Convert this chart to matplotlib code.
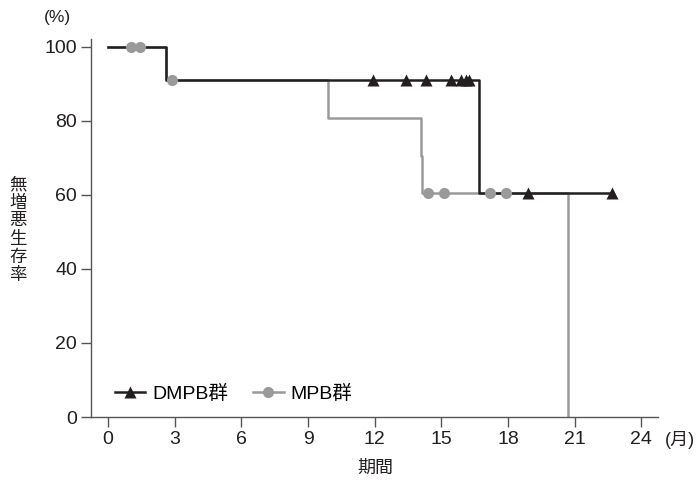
import matplotlib
matplotlib.use('Agg')
import matplotlib.pyplot as plt
from matplotlib.lines import Line2D

plt.rcParams['font.family'] = ['Liberation Sans', 'Noto Sans CJK JP']

# DMPB群 step curve and censor marks
dmpb_t = [0, 2.6, 16.7, 22.7]
dmpb_s = [100, 91, 60.6, 60.6]
dmpb_cens_t = [11.9, 13.4, 14.3, 15.45, 15.9, 16.1, 16.25, 18.9, 22.7]
dmpb_cens_s = [91, 91, 91, 91, 91, 91, 91, 60.6, 60.6]

# MPB群 step curve and censor marks
mpb_t = [0, 2.6, 9.9, 14.08, 14.13, 20.68, 20.68]
mpb_s = [100, 91, 80.8, 70.6, 60.6, 0, 0]
mpb_cens_t = [1.05, 1.42, 2.87, 14.4, 15.1, 17.2, 17.9]
mpb_cens_s = [100, 100, 91, 60.6, 60.6, 60.6, 60.6]

xticks = [0, 3, 6, 9, 12, 15, 18, 21, 24]
yticks = [0, 20, 40, 60, 80, 100]

black = '#231f20'
gray = '#9a9a9a'

fig = plt.figure(figsize=(7, 4.87), dpi=100)
ax = fig.add_axes([0.13, 0.1437, 0.81, 0.7753])

ax.step(mpb_t, mpb_s, where='post', color=gray, lw=1.8, zorder=2)
ax.step(dmpb_t, dmpb_s, where='post', color=black, lw=1.8, zorder=3)
ax.plot(mpb_cens_t, mpb_cens_s, 'o', color=gray, ms=8, mec='none', zorder=4)
ax.plot(dmpb_cens_t, dmpb_cens_s, '^', color=black, ms=8, mec='none', zorder=5)

ax.set_xlim(-0.77, 24.75)
ax.set_ylim(0, 102)
ax.set_xticks(xticks)
ax.set_yticks(yticks)
ax.tick_params(direction='out', length=7, width=1, color='#555555', labelsize=14,
               labelcolor='#231f20', pad=3)
for side in ['top', 'right']:
    ax.spines[side].set_visible(False)
for side in ['left', 'bottom']:
    ax.spines[side].set_color('#555555')
    ax.spines[side].set_linewidth(1)

fig.text(0.082, 0.965, '(%)', fontsize=12.5, ha='center', va='center', color='#231f20')
fig.text(0.971, 0.096, '(月)', fontsize=13, ha='center', va='center', color='#231f20')
fig.text(0.536, 0.039, '期間', fontsize=13, ha='center', va='center', color='#231f20')
fig.text(0.026, 0.528, '\n'.join('無増悪生存率'), fontsize=12.5, ha='center', va='center',
         linespacing=1.2, color='#231f20')

handles = [
    Line2D([], [], color=black, lw=1.8, marker='^', ms=8, mec='none'),
    Line2D([], [], color=gray, lw=1.8, marker='o', ms=8, mec='none'),
]
ax.legend(handles, ['DMPB群', 'MPB群'], loc='lower left', bbox_to_anchor=(0.012, -0.008),
          ncol=2, frameon=False, fontsize=14, handlelength=1.55, handletextpad=0.35,
          columnspacing=1.3)

fig.savefig('out.png', dpi=100)
